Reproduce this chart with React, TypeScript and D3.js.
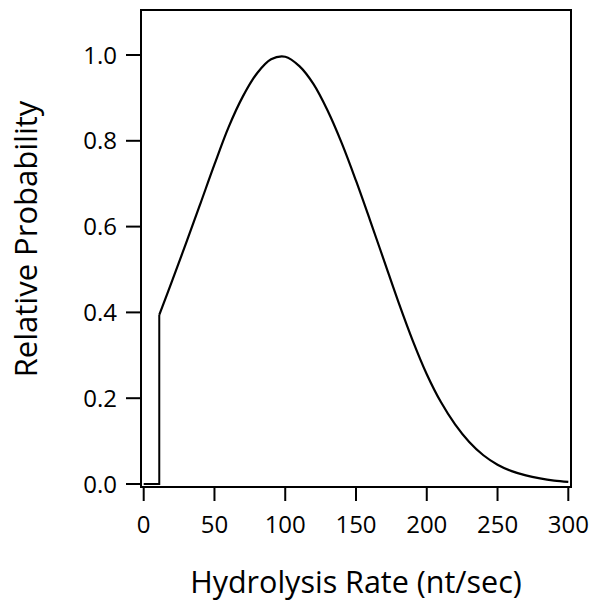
import React from "react";
import * as d3 from "d3";

const xTicks = [0, 50, 100, 150, 200, 250, 300];
const yTicks = [0.0, 0.2, 0.4, 0.6, 0.8, 1.0];

// step part (flat at zero, then jump)
const stepX = [0, 11, 11];
const stepY = [0, 0, 0.394];

// smooth part
const curveX = [11, 20, 30, 40, 50, 60, 70, 80, 90, 100, 110, 120, 130, 140, 150, 160, 170, 180, 190, 200, 210, 220, 230, 240, 250, 260, 270, 280, 290, 300];
const curveY = [0.394, 0.473, 0.562, 0.653, 0.745, 0.832, 0.903, 0.957, 0.99, 0.996, 0.974, 0.932, 0.87, 0.794, 0.707, 0.614, 0.519, 0.424, 0.335, 0.256, 0.191, 0.139, 0.098, 0.067, 0.045, 0.03, 0.02, 0.013, 0.008, 0.005];

const xTitle = "Hydrolysis Rate (nt/sec)";
const yTitle = "Relative Probability";

export default function App() {
  const W = 597, H = 601;
  const x = d3.scaleLinear().domain([0, 300]).range([143.7, 568.3]);
  const y = d3.scaleLinear().domain([0, 1]).range([484, 55]);
  const frame = { left: 141, right: 571, top: 10, bottom: 487 };
  const font = "'Open Sans', 'Noto Sans', sans-serif";

  const lineLin = d3.line<number>().x((_, i) => x(stepX[i])).y((d) => y(d));
  const lineSmooth = d3
    .line<number>()
    .x((_, i) => x(curveX[i]))
    .y((d) => y(d))
    .curve(d3.curveCatmullRom.alpha(0.5));

  return (
    <svg width={W} height={H} style={{ position: "absolute", left: 0, top: 0, background: "#fff" }}>
      <rect x={frame.left} y={frame.top} width={frame.right - frame.left} height={frame.bottom - frame.top} fill="none" stroke="#000" strokeWidth={2} />
      {yTicks.map((t) => (
        <g key={"y" + t}>
          <line x1={frame.left - 15} x2={frame.left} y1={y(t)} y2={y(t)} stroke="#000" strokeWidth={2} />
          <text x={117} y={y(t)} dy="0.357em" textAnchor="end" fontFamily={font} fontSize={24} fill="#000">
            {d3.format(".1f")(t)}
          </text>
        </g>
      ))}
      {xTicks.map((t) => (
        <g key={"x" + t}>
          <line x1={x(t)} x2={x(t)} y1={frame.bottom} y2={frame.bottom + 14} stroke="#000" strokeWidth={2} />
          <text x={x(t)} y={533} textAnchor="middle" fontFamily={font} fontSize={24} fill="#000">
            {t}
          </text>
        </g>
      ))}
      <path d={lineLin(stepY) || ""} fill="none" stroke="#000" strokeWidth={2} />
      <path d={lineSmooth(curveY) || ""} fill="none" stroke="#000" strokeWidth={2.2} />
      <text x={(frame.left + frame.right) / 2} y={593} textAnchor="middle" fontFamily={font} fontSize={30.5} fill="#000">
        {xTitle}
      </text>
      <text transform="translate(37,239) rotate(-90)" textAnchor="middle" fontFamily={font} fontSize={31} fill="#000">
        {yTitle}
      </text>
    </svg>
  );
}
